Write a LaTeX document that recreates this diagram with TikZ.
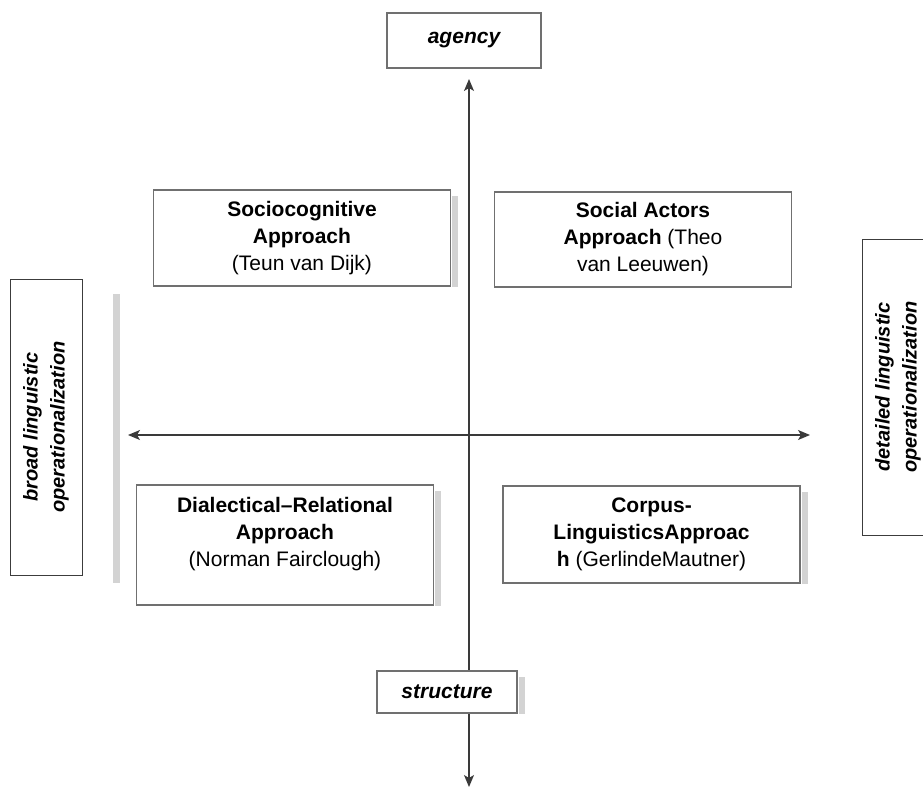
\documentclass[tikz,border=0pt]{standalone}
\usepackage{fontspec}
\setmainfont{Liberation Sans}
\usetikzlibrary{arrows.meta}
\definecolor{boxgray}{HTML}{707070}
\definecolor{sidegray}{HTML}{3C3C3C}
\definecolor{shadegray}{HTML}{D3D3D3}
\definecolor{axisgray}{HTML}{3A3A3A}
\begin{document}
\begin{tikzpicture}[x=1pt, y=-1pt,
    apbox/.style={draw=boxgray, line width=1.6pt, fill=white, inner sep=0pt,
      align=center, minimum width=297pt, font=\fontsize{21}{27}\selectfont},
    axisbox/.style={apbox, font=\bfseries\itshape\fontsize{21}{27}\selectfont},
    sidebox/.style={draw=sidegray, line width=1pt, fill=white, inner sep=0pt,
      align=center, rotate=90, minimum width=296pt, minimum height=72pt,
      font=\bfseries\itshape\fontsize{20}{27}\selectfont},
    axisline/.style={draw=axisgray, line width=1.3pt,
      -{Stealth[length=12pt,width=10pt,inset=3pt]}}]
  \useasboundingbox (0,0) rectangle (923,789);
  % axes
  \coordinate (o) at (469,435);
  \coordinate (up) at (469,79);
  \coordinate (down) at (469,787);
  \coordinate (left) at (128,435);
  \coordinate (right) at (810,435);
  \begin{scope}[axisline]
    \draw (o) to (up);
    \draw (o) to (down);
    \draw (o) to (left);
    \draw (o) to (right);
  \end{scope}
  % boxes
  \node[axisbox, minimum width=154pt, minimum height=55pt] (agency) at (464,40.5) {agency};
  \node[axisbox, minimum width=140pt, minimum height=42pt] (structure) at (447,692) {structure};
  \node[apbox, minimum height=96pt] (socio) at (302,238)
    {\textbf{Sociocognitive}\\\textbf{Approach}\\(Teun van Dijk)};
  \node[apbox, minimum height=95pt] (actors) at (643,239.5)
    {\textbf{Social Actors}\\\textbf{Approach} (Theo\\van Leeuwen)};
  \node[apbox, minimum height=120pt] (dialect) at (285,545)
    {\textbf{Dialectical–Relational}\\\textbf{Approach}\\(Norman Fairclough)\\\mbox{}};
  \node[apbox, minimum height=97pt] (corpus) at (651.5,534.5)
    {\textbf{Corpus-}\\\textbf{LinguisticsApproac}\\\textbf{h} (GerlindeMautner)};
  \node[sidebox] (broad) at (46,427) {broad linguistic\\operationalization};
  \node[sidebox] (detailed) at (898,387) {detailed linguistic\\operationalization};
  % shadows
  \foreach \n in {socio,dialect,corpus,structure}
    \fill[shadegray] ([xshift=0.8pt,yshift=-7pt]\n.north east) rectangle ([xshift=7pt]\n.south east);
  \fill[shadegray] (113,294) rectangle (120,583);
\end{tikzpicture}
\end{document}
